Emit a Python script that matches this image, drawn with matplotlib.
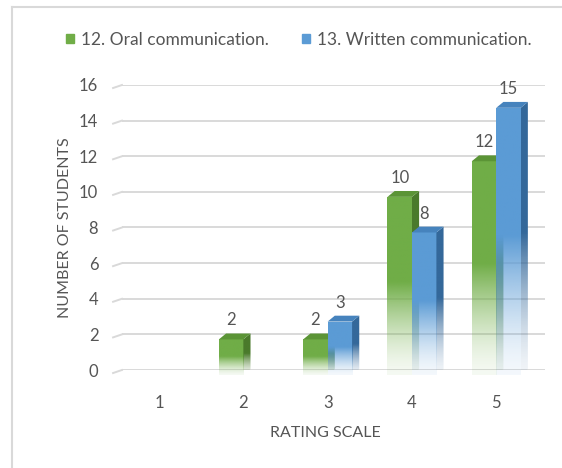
import numpy as np
import matplotlib.pyplot as plt
from matplotlib.patches import Patch, Polygon
from matplotlib.lines import Line2D
from matplotlib.transforms import ScaledTranslation
from matplotlib.colors import to_rgb

ratings = ['1', '2', '3', '4', '5']
oral = [0, 2, 2, 10, 12]
written = [0, 0, 3, 8, 15]
series_names = ['12. Oral communication.', '13. Written communication.']

plt.rcParams['font.family'] = ['Lato', 'DejaVu Sans']
TXT = '#555555'
GRID = '#d9d9d9'

fig = plt.figure(figsize=(5.62, 4.68), dpi=100)
ax = fig.add_axes([0.217, 0.2094, 0.753, 0.609])

x = np.arange(1, len(ratings) + 1)
w = 0.29
dx, dy = 0.085, 0.33   # depth of the fake 3d box, data units
shift = ScaledTranslation(0, -0.05, fig.dpi_scale_trans)
tr = ax.transData + shift


def fade(color, n=200):
    # solid on top, fading out towards the floor
    t = np.linspace(0, 1, n)
    a = 0.07 + 0.93 * np.clip(t / 0.52, 0, 1) ** 1.5
    rgba = np.zeros((n, 1, 4))
    rgba[:, 0, :3] = to_rgb(color)
    rgba[:, 0, 3] = a
    return rgba


def bars3d(xs, vals, front, top, side, z):
    rects = ax.bar(xs, vals, w, color='none', zorder=z)
    for r, v in zip(rects, vals):
        if v == 0:
            continue
        x0 = r.get_x()
        x1 = x0 + r.get_width()
        h = r.get_height()
        r.set_transform(tr)
        im = ax.imshow(fade(front), extent=[x0, x1, 0, h], origin='lower',
                       aspect='auto', transform=tr, zorder=z)
        im.set_clip_path(r)
        sp = Polygon([(x1, 0), (x1 + dx, dy), (x1 + dx, h + dy), (x1, h)],
                     closed=True, facecolor='none', edgecolor='none',
                     transform=tr, zorder=z)
        ax.add_patch(sp)
        im2 = ax.imshow(fade(side), extent=[x1, x1 + dx, 0, h + dy], origin='lower',
                        aspect='auto', transform=tr, zorder=z)
        im2.set_clip_path(sp)
        tp = Polygon([(x0, h), (x0 + dx, h + dy), (x1 + dx, h + dy), (x1, h)],
                     closed=True, facecolor=top, edgecolor='none',
                     transform=tr, zorder=z)
        ax.add_patch(tp)
        ax.annotate(str(v), ((x0 + x1) / 2, h), xytext=(0, 10),
                    textcoords='offset points', ha='center', va='center',
                    fontsize=12, color=TXT, zorder=10)


bars3d(x - w / 2, oral, '#70ad47', '#5b9436', '#4a7a2b', 3)
bars3d(x + w / 2, written, '#5b9bd5', '#4683bd', '#34689a', 4)

ax.set_xlim(0.56, 5.58)
ax.set_ylim(0, 16)
ax.set_xticks(x)
ax.set_xticklabels(ratings)
ax.set_yticks(range(0, 17, 2))
ax.grid(axis='y', color=GRID, lw=1.4)
ax.set_axisbelow(True)
for t in range(0, 17, 2):
    ax.plot([-0.021, 0], [t - 0.17, t], transform=ax.get_yaxis_transform(),
            color=GRID, lw=1.4, clip_on=False)
for s in ax.spines.values():
    s.set_visible(False)
ax.tick_params(axis='both', length=0, labelsize=12, colors=TXT)
ax.tick_params(axis='y', pad=17)
ax.tick_params(axis='x', pad=18)

ax.set_xlabel('RATING SCALE', fontsize=11.5, color=TXT, labelpad=11)
ax.xaxis.label.set_x(0.48)
ax.set_ylabel('NUMBER OF STUDENTS', fontsize=11.5, color=TXT, labelpad=5)

handles = [Patch(color='#70ad47'), Patch(color='#5b9bd5')]
fig.legend(handles, series_names, loc='center', bbox_to_anchor=(0.532, 0.915),
           ncol=2, frameon=False, handlelength=0.45, handleheight=0.45,
           handletextpad=0.4, columnspacing=1.9, fontsize=12.5, labelcolor=TXT)

# chart area border (only top and left edges visible)
fig.add_artist(Line2D([12 / 562, 1], [1 - 7 / 468] * 2, transform=fig.transFigure,
                      color=GRID, lw=1.5))
fig.add_artist(Line2D([12 / 562] * 2, [0, 1 - 7 / 468], transform=fig.transFigure,
                      color=GRID, lw=1.5))

fig.savefig('out.png', dpi=100)
